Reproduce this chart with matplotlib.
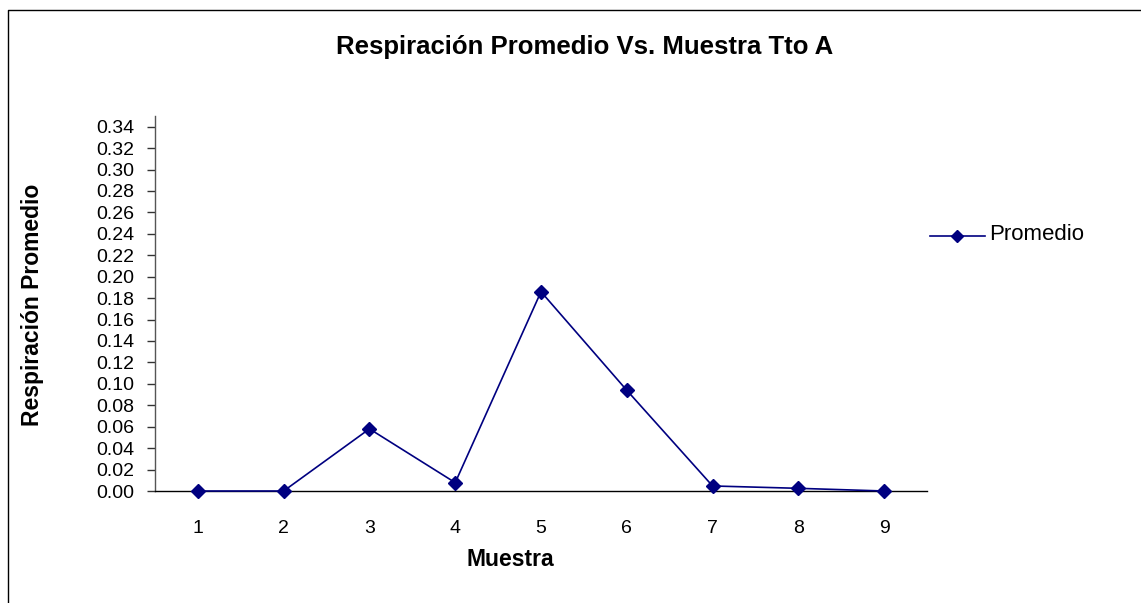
import matplotlib
matplotlib.use("Agg")
import matplotlib.pyplot as plt
from matplotlib.lines import Line2D
import numpy as np

plt.rcParams['font.family'] = ['Liberation Sans', 'DejaVu Sans']

muestra = [1, 2, 3, 4, 5, 6, 7, 8, 9]
promedio = [0.0, 0.0, 0.058, 0.0078, 0.186, 0.094, 0.0047, 0.0025, 0.0]
yticks = [round(0.02 * i, 2) for i in range(18)]
series_label = "Promedio"
title = "Respiración Promedio Vs. Muestra Tto A"
xlabel = "Muestra"
ylabel = "Respiración Promedio"

W, H = 1141, 603
fig = plt.figure(figsize=(W / 100, H / 100), dpi=100)
ax = fig.add_axes([155 / W, 1 - 491 / H, (927 - 155) / W, (491 - 116) / H])

color = '#000080'
ax.plot(muestra, promedio, color=color, lw=1.2, marker='D', markersize=7,
        clip_on=False, zorder=3)

ax.set_xlim(0.5, 9.5)
ax.set_ylim(0, 0.35)
ax.set_xticks(muestra)
ax.set_xticklabels([str(m) for m in muestra])
ax.set_yticks(yticks)
ax.set_yticklabels([f"{v:.2f}" for v in yticks])
ax.tick_params(axis='x', length=0, pad=21, labelsize=14)
ax.tick_params(axis='y', length=6, width=1, direction='out', pad=9, labelsize=14, color='#333333')
for s in ['top', 'right']:
    ax.spines[s].set_visible(False)
ax.spines['left'].set_color('#555555')
ax.spines['bottom'].set_color('black')
ax.spines['left'].set_linewidth(1)
ax.spines['bottom'].set_linewidth(1)

fig.text(585 / W, 1 - 47 / H, title, ha='center', va='center', fontsize=18.5, fontweight='bold')
fig.text(510 / W, 1 - 560 / H, xlabel, ha='center', va='center', fontsize=16.5, fontweight='bold')
fig.text(33 / W, 1 - 305 / H, ylabel, ha='center', va='center', fontsize=16.5, fontweight='bold', rotation=90)

# legend
fig.add_artist(Line2D([930 / W, 985 / W], [1 - 236 / H, 1 - 236 / H], color=color, lw=1.2,
                      transform=fig.transFigure))
fig.add_artist(Line2D([957 / W], [1 - 236 / H], color=color, marker='D', markersize=6.5,
                      transform=fig.transFigure))
fig.text(989 / W, 1 - 235 / H, series_label, ha='left', va='center', fontsize=16)

# chart frame (left and top edges visible)
fig.add_artist(Line2D([8 / W, 8 / W, 1.01], [-0.01, 1 - 10 / H, 1 - 10 / H], color='black', lw=1,
                      transform=fig.transFigure))

fig.savefig("out.png", dpi=100)
